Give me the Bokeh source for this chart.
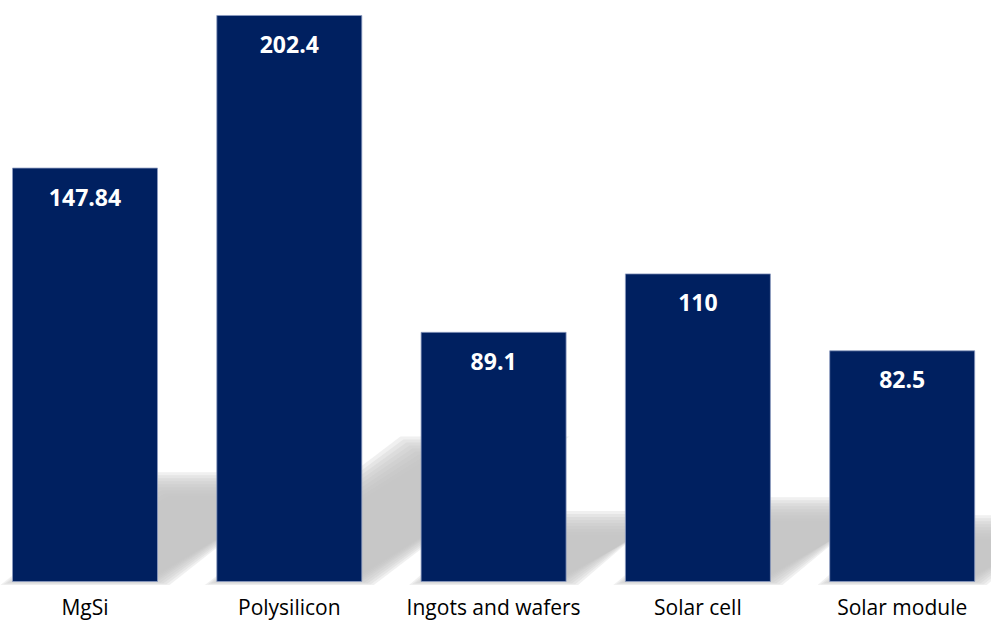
from bokeh.plotting import figure
from bokeh.models import Range1d, ColumnDataSource
from bokeh.core.properties import value
from bokeh.embed import file_html
from bokeh.resources import INLINE

categories = ["MgSi", "Polysilicon", "Ingots and wafers", "Solar cell", "Solar module"]
values = [147.84, 202.4, 89.1, 110, 82.5]
labels = ["147.84", "202.4", "89.1", "110", "82.5"]

W, H = 991, 623
PX_X = 204.3          # pixels per category step
PX_Y = 2.7965         # pixels per value unit
BAR_W = 145 / PX_X
X_START = -84.5 / PX_X
X_END = X_START + W / PX_X

BASE_PX = 581
Y_END = BASE_PX / PX_Y
Y_START = -(H - BASE_PX) / PX_Y

xs_idx = list(range(len(categories)))

p = figure(width=W, height=H, output_backend="svg", toolbar_location=None,
           x_range=Range1d(X_START, X_END), y_range=Range1d(Y_START, Y_END),
           x_axis_location=None, y_axis_location=None,
           min_border_left=0, min_border_right=0,
           min_border_top=0, min_border_bottom=0)
p.outline_line_color = None
p.grid.visible = False
p.background_fill_color = "white"
p.border_fill_color = "white"

# blurred perspective shadows
SLOPE = 0.68
RATIO = 0.235
for e in range(-12, 13, 3):
    pxs, pys = [], []
    for i, v in zip(xs_idx, values):
        L = i - BAR_W / 2
        R = i + BAR_W / 2
        sh = RATIO * v
        dx = sh * PX_Y / SLOPE / PX_X
        ex = e / PX_X
        ey = e / PX_Y
        bot = -max(e, 0) * 0.3 / PX_Y
        pxs.append([L - ex, R + ex, R + dx + ex, L + dx - ex])
        pys.append([bot, bot, sh + ey, sh + ey])
    p.patches(pxs, pys, fill_color="#c4c4c4", fill_alpha=0.25, line_color=None)

src = ColumnDataSource(dict(x=xs_idx, top=values, label=labels,
                            cat=categories, zero=[0] * len(values)))
p.vbar(x="x", top="top", bottom=0, width=BAR_W, source=src,
       fill_color="#002060", line_color="#8d9cc0", line_width=0.8)

p.text(x="x", y="top", text="label", source=src, text_align="center",
       text_baseline="alphabetic", y_offset=29, text_color="white",
       text_font=value("Open Sans"), text_font_style="bold",
       text_font_size="23px")

# category labels under the bars
p.text(x="x", y="zero", text="cat", source=src, text_align="center",
       text_baseline="alphabetic", y_offset=25, text_color="#000000",
       text_font=value("Open Sans"), text_font_size="21px")

open("out.html", "w").write(file_html(p, INLINE))
